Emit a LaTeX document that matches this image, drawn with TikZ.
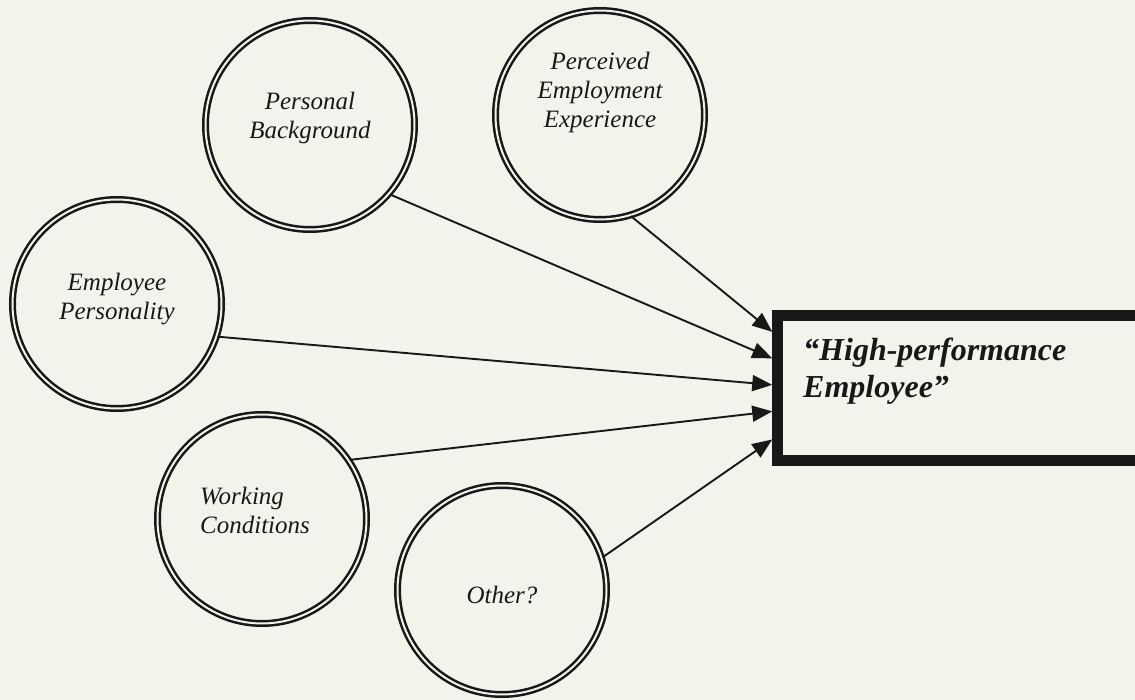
\documentclass[tikz,border=0pt]{standalone}
\usepackage{fontspec}
\setmainfont{Liberation Serif}
\usepackage{tikz}
\usetikzlibrary{arrows.meta,calc}
\definecolor{paper}{RGB}{243,243,236}
\definecolor{ink}{RGB}{24,24,24}

\begin{document}
\begin{tikzpicture}[
    x=1pt, y=-1pt,
    factor/.style={circle, draw=ink, line width=2.5pt, double=paper,
        double distance=2pt, minimum size=209pt, inner sep=0pt},
    tag/.style={font=\fontsize{25}{29}\selectfont\itshape, text=ink,
        align=center, inner sep=0pt},
    outcome/.style={rectangle, draw=ink, line width=11pt, fill=paper,
        minimum width=372pt, minimum height=145pt},
    boxtext/.style={font=\fontsize{32}{37}\selectfont\bfseries\itshape,
        text=ink, align=left, inner sep=0pt},
    link/.style={draw=ink, line width=1.9pt, -{Triangle[length=20pt,width=16pt]}}
]
\fill[paper] (0,0) rectangle (1135,700);
\useasboundingbox (0,0) rectangle (1135,700);

\node[factor, label={[tag,yshift=7pt]center:{Personal\\Background}}] (pb) at (310,125) {};
\node[factor, label={[tag,yshift=23pt]center:{Perceived\\Employment\\Experience}}] (pee) at (600,115) {};
\node[factor, label={[tag,yshift=5pt]center:{Employee\\Personality}}] (ep) at (117,304) {};
\node[factor, label={[tag,align=left,xshift=-7pt,yshift=9pt]center:{Working\\Conditions}}] (wc) at (262,519) {};
\node[factor, label={[tag,yshift=-5pt]center:{Other?}}] (oth) at (502,590) {};

\node[outcome] (hpe) at (963.75,388) {};
\node[boxtext, anchor=north west] (hpetext) at (803,338) {“High-performance\\Employee”};

\draw[link] (pee.-73) -- ($(hpe.north west)!.14!(hpe.south west)$);
\draw[link] (pb.-41) -- ($(hpe.north west)!.31!(hpe.south west)$);
\draw[link] (ep.-18) -- ($(hpe.north west)!.48!(hpe.south west)$);
\draw[link] (wc.34) -- ($(hpe.north west)!.65!(hpe.south west)$);
\draw[link] (oth.18) -- ($(hpe.north west)!.83!(hpe.south west)$);
\end{tikzpicture}
\end{document}
